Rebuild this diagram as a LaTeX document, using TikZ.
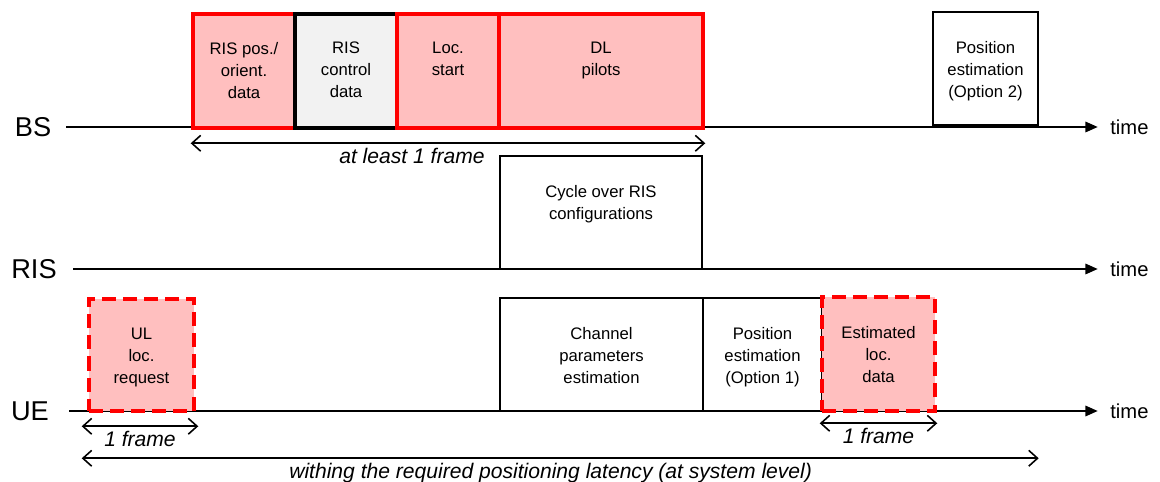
\documentclass[tikz,border=0pt]{standalone}
\usepackage{fontspec}
\setmainfont{Liberation Sans}
\usetikzlibrary{arrows.meta}
\usetikzlibrary{fit}
\usetikzlibrary{calc}

\definecolor{slotpink}{RGB}{255,191,191}
\definecolor{slotred}{RGB}{255,0,0}
\definecolor{slotgray}{RGB}{242,242,242}

\begin{document}
\begin{tikzpicture}[x=0.02cm, y=-0.02cm,
        lane/.style={font=\fontsize{15.5}{18}\selectfont},
        timelbl/.style={font=\fontsize{11.5}{14}\selectfont, anchor=west, inner sep=0pt},
        axis/.style={line width=0.9pt, -{Triangle[length=7pt,width=6pt]}},
        dim/.style={line width=0.9pt, {Straight Barb[length=5pt,width=9pt]}-{Straight Barb[length=5pt,width=9pt]}},
        dimlbl/.style={font=\fontsize{12}{14}\selectfont\itshape},
        slot/.style={draw, fill=white, line width=0.8pt, inner sep=0pt},
        redslot/.style={slot, draw=slotred, fill=slotpink, line width=2.6pt},
        dashslot/.style={redslot, dash pattern=on 8pt off 4pt},
        slottxt/.style={anchor=north, inner sep=0pt, align=center, font=\fontsize{9.5}{12.5}\selectfont}]
        \useasboundingbox (0,0) rectangle (1160,482);

        % Time axes
        \node[lane] (bs) at (33,127) {BS};
        \node[lane] (ris) at (34,269) {RIS};
        \node[lane] (ue) at (30,411) {UE};
        \coordinate (bsstart) at (66,127);
        \coordinate (risstart) at (73,269);
        \coordinate (uestart) at (69,411);
        \node[timelbl] (bstime) at (1110,127) {time};
        \node[timelbl] (ristime) at (1110,269) {time};
        \node[timelbl] (uetime) at (1110,411) {time};
        \draw[axis] (bsstart) -- ([xshift=-7pt]bstime.west);
        \draw[axis] (risstart) -- ([xshift=-7pt]ristime.west);
        \draw[axis] (uestart) -- ([xshift=-7pt]uetime.west);

        % BS slots
        \node[redslot, fit={(193,14) (295,128)}] (rispos) {};
        \node[slot, fill=slotgray, line width=2.6pt, fit={(295,14) (397,128)}] (risctrl) {};
        \node[redslot, fit={(397,14) (499,128)}] (locstart) {};
        \node[redslot, fit={(499,14) (703,128)}] (dlpilots) {};
        \node[slot, fit={(933,12) (1038,125)}] (posopt2) {};
        \node[slottxt] (rispostxt) at ($(rispos.north)+(0,30)$) {RIS pos./\\orient.\\data};
        \node[slottxt] (risctrltxt) at ($(risctrl.north)+(0,30)$) {RIS\\control\\data};
        \node[slottxt] (locstarttxt) at ($(locstart.north)+(0,30)$) {Loc.\\start};
        \node[slottxt] (dlpilotstxt) at ($(dlpilots.north)+(0,30)$) {DL\\pilots};
        \node[slottxt] (posopt2txt) at ($(posopt2.north)+(0,30)$) {Position\\estimation\\(Option 2)};

        % RIS slot
        \node[slot, fit={(500,156) (702,269)}] (cycle) {};
        \node[slottxt] (cycletxt) at ($(cycle.north)+(0,30)$) {Cycle over RIS\\configurations};

        % UE slots
        \node[dashslot, fit={(89,299) (194,411)}] (ulreq) {};
        \node[slot, fit={(500,298) (703,411)}] (chanest) {};
        \node[slot, fit={(703,298) (822,411)}] (posopt1) {};
        \node[dashslot, fit={(822,297) (935,411)}] (estloc) {};
        \node[slottxt] (ulreqtxt) at ($(ulreq.north)+(0,31)$) {UL\\loc.\\request};
        \node[slottxt] (chanesttxt) at ($(chanest.north)+(0,30)$) {Channel\\parameters\\estimation};
        \node[slottxt] (posopt1txt) at ($(posopt1.north)+(0,30)$) {Position\\estimation\\(Option 1)};
        \node[slottxt] (estloctxt) at ($(estloc.north)+(0,31)$) {Estimated\\loc.\\data};

        % Durations
        \draw[dim] ($(rispos.south west)+(0,13)$) -- ($(dlpilots.south east)+(0,13)$)
        node[dimlbl, pos=0.43, below=-1pt] (atleast) {at least 1 frame};
        \draw[dim] ($(ulreq.south west)+(-5,13)$) -- ($(ulreq.south east)+(2,13)$)
        node[dimlbl, midway, below=-1pt] (ulframe) {1 frame};
        \draw[dim] ($(estloc.south west)+(0,10)$) -- ($(estloc.south east)+(0,10)$)
        node[dimlbl, midway, below=-1pt] (estframe) {1 frame};
        \draw[dim] ($(ulreq.south west)+(-5,45)$) -- ($(posopt2.east |- ulreq.south)+(0,45)$)
        node[dimlbl, pos=0.49, below=-1pt] (latency) {withing the required positioning latency (at system level)};
\end{tikzpicture}
\end{document}
